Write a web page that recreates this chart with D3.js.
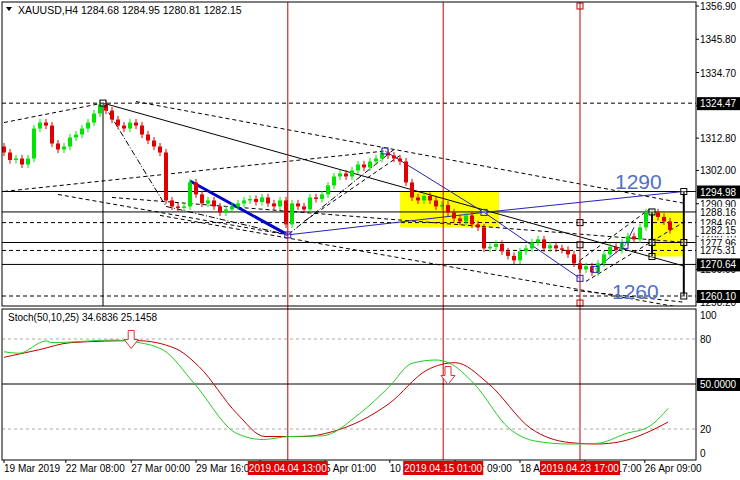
<!DOCTYPE html>
<html><head><meta charset="utf-8">
<script src="https://cdn.jsdelivr.net/npm/d3@7"></script>
<style>body{margin:0;background:#fff}svg{display:block;font-family:"Liberation Sans",Arial,sans-serif}</style>
</head><body><svg id="c" width="740" height="480"></svg>
<script>
// closes per H4 candle
const closes = [1308,1305.5,1306,1304,1306,1316,1318,1317,1311,1309,1310,1313,1314,1316,1318,1321,1324,1322,1319,1317,
1316,1318,1317,1314,1312,1310,1308,1292,1290,1289.5,1290,1298,1294,1291,1292,1290,1288,1289,1290,1291,
1292,1292.5,1291.5,1293,1291,1290,1292,1284,1291,1290,1289,1293,1292.5,1294,1297,1300,1301,1300,1302,1304,
1303,1305,1306,1308,1307,1306,1305,1298,1293,1292,1293.5,1292,1290,1290.5,1288,1286,1285,1287,1284,1283,
1276,1276.5,1277.5,1275,1273.5,1272,1275,1276,1278,1279,1276,1277,1276,1275.5,1274,1271,1269,1270,1268,1271,
1274,1276.5,1275.5,1278,1280,1279,1283,1288,1288,1286.5,1285,1282.15];
const firstOpen = 1310;
const priceTicks = [1356.90,1345.80,1334.70,1323.60,1312.80,1302.00,1290.90,1280.10,1269.00,1258.20];
const levels = [
  {v:1324.47,dash:true,box:true},{v:1294.98,dash:false,box:true},{v:1288.16,dash:false,box:false},
  {v:1284.60,dash:true,box:false},{v:1282.15,dash:true,box:false,noLine:true},{v:1277.96,dash:false,box:false},
  {v:1275.31,dash:true,box:false},{v:1270.64,dash:false,box:true},{v:1260.10,dash:true,box:true}];
// stochastic %K (green) and %D (red) as [candle index, value]
const stochK = [[0,71.5],[2.5,70.5],[7,78.7],[8,77.6],[18.3,79.3],[21.5,78.2],[26.5,72.7],[31.7,50.4],[38.8,17],[43.2,13],
[47.5,15],[53,15.4],[59.3,30.4],[64.2,48.2],[68,63.8],[72,66],[74.3,63.8],[78.3,50.4],[84.2,20.4],[88.5,12],[94.2,10],[98.8,10.4],[103.7,17],[107.5,21.6],[110.7,33.8]];
const stochD = [[0,67.8],[5.7,72.7],[11.2,77.6],[22.2,78.9],[28.5,73.8],[32.5,61.6],[38.8,30.4],[43.5,15],[49.8,15],[54.7,18.2],
[64.2,37],[70.5,59.3],[75.2,64.2],[80.7,50.4],[87.8,20.4],[94.2,11],[98.8,10],[102.8,11.6],[106.8,17],[110.7,24.7]];
const stochTicks = [100,80,50,20,0];
const dateLabels = [[0,"19 Mar 2019"],[10.3,"22 Mar 08:00"],[21.2,"27 Mar 00:00"],[32,"29 Mar 16:00"],[42.7,"2 Apr 08:00"],
[53.5,"5 Apr 01:00"],[64.3,"10 Apr 17:00"],[75.2,"15 Apr 09:00"],[86,"18 Apr 01:00"],[96.8,"22 Apr 17:00"],[106.8,"26 Apr 09:00"]];
const markers = [[47.3,"2019.04.04 13:00"],[73.2,"2019.04.15 01:00"],[96,"2019.04.23 17:00"]];

const svg = d3.select('#c');
const x = d3.scaleLinear().domain([0, closes.length - 1]).range([4, 670]);
const y = d3.scaleLinear().domain([1356.9, 1258.2]).range([6, 301.7]);
const ys = d3.scaleLinear().domain([0, 100]).range([459, 309]);
const L = 2, R = 696;

const main = svg.append('g');
svg.append('clipPath').attr('id','cm').append('rect').attr('x',L).attr('y',2).attr('width',R-L).attr('height',304);
const mg = main.append('g').attr('clip-path','url(#cm)');

// yellow boxes
mg.append('rect').attr('x',x(66)).attr('y',y(1295)).attr('width',x(82.5)-x(66)).attr('height',y(1283)-y(1295)).attr('fill','#ffff00');
mg.append('rect').attr('x',x(108)).attr('y',y(1288.2)).attr('width',x(113.3)-x(108)).attr('height',y(1273.3)-y(1288.2)).attr('fill','#ffff00');

// horizontal levels
levels.filter(d => !d.noLine).forEach(d => {
  mg.append('line').attr('x1',L).attr('x2',R).attr('y1',y(d.v)).attr('y2',y(d.v))
    .attr('stroke','#000').attr('stroke-dasharray',d.dash ? '4,3' : null);
});

// vertical lines
mg.append('line').attr('x1',x(16.5)).attr('x2',x(16.5)).attr('y1',y(1324.47)).attr('y2',306).attr('stroke','#000');
markers.forEach(m => {
  svg.append('line').attr('x1',x(m[0])).attr('x2',x(m[0])).attr('y1',2).attr('y2',460).attr('stroke','#c00000');
});

// trend lines [i1,p1,i2,p2,style,color,width]
const lines = [
  [16.5,1324.5,113.5,1270,'solid','#000',1],
  [0,1318,16.5,1324.5,'dash','#000',1],
  [0,1295,63.5,1308.5,'dash','#000',1],
  [22,1325,113.5,1291,'dash','#000',1],
  [9,1294,47.3,1280.5,'dash','#000',1],
  [26,1287,113.5,1256,'dash','#000',1],
  [18,1293,113.5,1278,'dash','#000',1],
  [16.5,1324.5,27,1290,'dashdot','#000',1],
  [27,1290,47.3,1280.5,'dashdot','#000',1],
  [47.3,1280.5,65,1309,'dashdot','#000',1],
  [50,1285,66,1307,'dash','#000',1],
  [95,1262,113.5,1258,'dash','#000',1],
  [96,1272,107.5,1289,'dash','#000',1],
  [97,1265,113.5,1285,'dash','#000',1],
  [31,1298.5,47.3,1280.5,'solid','#0000cc',3],
  [47.3,1280.5,80,1288,'solid','#2222bb',1],
  [80,1288,113.3,1295,'solid','#2222bb',1],
  [63.5,1308.5,80,1288,'solid','#2222bb',1],
  [80,1288,96,1266,'solid','#2222bb',1],
  [98.5,1269,103.5,1277,'solid','#2222bb',1],
  [103.5,1277,105,1283,'solid','#2222bb',1]
];
lines.forEach(l => {
  mg.append('line').attr('x1',x(l[0])).attr('y1',y(l[1])).attr('x2',x(l[2])).attr('y2',y(l[3]))
    .attr('stroke',l[5]).attr('stroke-width',l[6])
    .attr('stroke-dasharray',l[4]==='dash' ? '4,3' : l[4]==='dashdot' ? '6,2,1,2' : null);
});

// candles
const cw = 4;
closes.forEach((c, i) => {
  const o = i === 0 ? firstOpen : closes[i-1];
  const up = c >= o;
  const col = up ? '#00e400' : '#e00000';
  const hi = Math.max(o, c) + 1.2, lo = Math.min(o, c) - 1.2;
  mg.append('line').attr('x1',x(i)).attr('x2',x(i)).attr('y1',y(hi)).attr('y2',y(lo)).attr('stroke',col);
  mg.append('rect').attr('x',x(i)-cw/2).attr('y',y(Math.max(o,c))).attr('width',cw)
    .attr('height',Math.max(1,Math.abs(y(o)-y(c)))).attr('fill',col);
});

// bracket at right
mg.append('line').attr('x1',x(108)).attr('x2',x(108)).attr('y1',y(1288.16)).attr('y2',y(1273.3)).attr('stroke','#000').attr('stroke-width',2);
mg.append('line').attr('x1',x(113.3)).attr('x2',x(113.3)).attr('y1',y(1294.98)).attr('y2',y(1260.1)).attr('stroke','#000').attr('stroke-width',2);
const sq = [[108,1288.16,'#000'],[108,1278,'#000'],[108,1273.3,'#000'],[113.3,1294.98,'#000'],[113.3,1277.96,'#000'],[113.3,1260.1,'#000'],
  [96,1284.6,'#000'],[96,1277.2,'#000'],[96,1266,'#22b'],[80,1288,'#22b'],[63.5,1308.5,'#22b'],[47.3,1280.5,'#22b'],[98.5,1269,'#22b'],[103.5,1277,'#22b'],[16.5,1324.5,'#000']];
sq.forEach(s => mg.append('rect').attr('x',x(s[0])-3).attr('y',y(s[1])-3).attr('width',6).attr('height',6)
  .attr('fill','#fff').attr('fill-opacity',0.3).attr('stroke',s[2]));
svg.append('rect').attr('x',x(96)-3).attr('y',3).attr('width',6).attr('height',6).attr('fill','none').attr('stroke','#c00000');
svg.append('rect').attr('x',x(96)-3).attr('y',300).attr('width',6).attr('height',6).attr('fill','none').attr('stroke','#c00000');

// big level labels
mg.append('text').attr('x',615).attr('y',y(1294.98)-3).attr('fill','#5070c8').attr('font-size',21).text('1290');
mg.append('text').attr('x',612).attr('y',y(1260.1)+3).attr('fill','#5070c8').attr('font-size',21).text('1260');

// price axis
priceTicks.forEach(t => {
  svg.append('line').attr('x1',R).attr('x2',R+3).attr('y1',y(t)).attr('y2',y(t)).attr('stroke','#000');
  svg.append('text').attr('x',R+4).attr('y',y(t)+4).attr('font-size',10).attr('fill','#000').text(t.toFixed(2));
});
levels.forEach(d => {
  const yy = y(d.v);
  if (d.box) {
    svg.append('rect').attr('x',R+1).attr('y',yy-6).attr('width',43).attr('height',13).attr('fill','#000');
    svg.append('text').attr('x',R+4).attr('y',yy+4).attr('font-size',10).attr('fill','#fff').text(d.v.toFixed(2));
  } else {
    svg.append('rect').attr('x',R+1).attr('y',yy-5).attr('width',43).attr('height',11).attr('fill','#fff');
    svg.append('text').attr('x',R+4).attr('y',yy+4).attr('font-size',10).attr('fill','#000').text(d.v.toFixed(2));
  }
});

// header
svg.append('path').attr('d','M6,7 L12,7 L9,11 Z').attr('fill','#000');
svg.append('text').attr('x',18).attr('y',14).attr('font-size',10.5).text('XAUUSD,H4  1284.68 1284.95 1280.81 1282.15');

// stochastic panel
const sg = svg.append('g');
[80,20].forEach(v => sg.append('line').attr('x1',L).attr('x2',R).attr('y1',ys(v)).attr('y2',ys(v)).attr('stroke','#aaa').attr('stroke-dasharray','3,3'));
sg.append('line').attr('x1',L).attr('x2',R).attr('y1',ys(50)).attr('y2',ys(50)).attr('stroke','#000');
const ln = d3.line().x(d => x(d[0])).y(d => ys(d[1])).curve(d3.curveMonotoneX);
sg.append('path').attr('d',ln(stochD)).attr('fill','none').attr('stroke','#c00000');
sg.append('path').attr('d',ln(stochK)).attr('fill','none').attr('stroke','#22cc22');
stochTicks.forEach(t => {
  if (t === 50) return;
  svg.append('text').attr('x',R+4).attr('y',ys(t)+(t===100?10:t===0?-2:4)).attr('font-size',10).text(t);
});
svg.append('rect').attr('x',R+1).attr('y',ys(50)-6).attr('width',43).attr('height',13).attr('fill','#000');
svg.append('text').attr('x',R+4).attr('y',ys(50)+4).attr('font-size',10).attr('fill','#fff').text('50.0000');
svg.append('text').attr('x',8).attr('y',321).attr('font-size',10).text('Stoch(50,10,25) 34.6836 25.1458');
// arrows
[[21.2,79],[74,55]].forEach(a => {
  const cx = x(a[0]), cy = ys(a[1]);
  svg.append('path').attr('d',`M${cx-3},${cy-10} h6 v9 h4 l-7,9 l-7,-9 h4 Z`).attr('fill','#fff').attr('stroke','#e03030');
});

// frames
svg.append('rect').attr('x',L).attr('y',2).attr('width',R-L).attr('height',304).attr('fill','none').attr('stroke','#000');
svg.append('rect').attr('x',L).attr('y',309).attr('width',R-L).attr('height',151).attr('fill','none').attr('stroke','#000');

// date axis
dateLabels.forEach(d => {
  svg.append('line').attr('x1',x(d[0])).attr('x2',x(d[0])).attr('y1',460).attr('y2',463).attr('stroke','#000');
  svg.append('text').attr('x',x(d[0])).attr('y',472).attr('font-size',10).text(d[1]);
});
markers.forEach(m => {
  const cx = x(m[0]);
  svg.append('rect').attr('x',cx-40).attr('y',461).attr('width',80).attr('height',14).attr('fill','#e00000');
  svg.append('text').attr('x',cx).attr('y',472).attr('font-size',10).attr('fill','#fff').attr('text-anchor','middle').text(m[1]);
});
</script></body></html>
